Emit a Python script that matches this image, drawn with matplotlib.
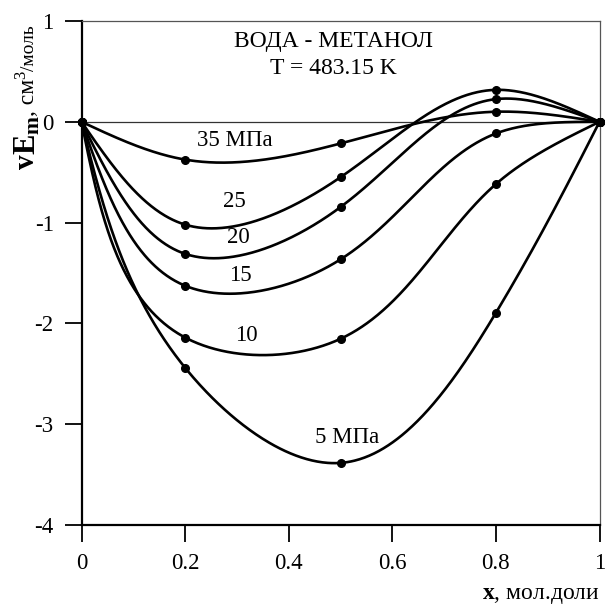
import numpy as np
import matplotlib
matplotlib.use("Agg")
import matplotlib.pyplot as plt

plt.rcParams['font.family'] = ['Liberation Serif', 'DejaVu Serif']
plt.rcParams['mathtext.fontset'] = 'custom'
plt.rcParams['mathtext.rm'] = 'Liberation Serif'
plt.rcParams['mathtext.bf'] = 'Liberation Serif:bold'
plt.rcParams['mathtext.it'] = 'Liberation Serif:italic'

x_pts = [0.0, 0.2, 0.5, 0.8, 1.0]
v_35 = [0.0, -0.375, -0.215, 0.100, 0.0]
v_25 = [0.0, -1.020, -0.550, 0.317, 0.0]
v_20 = [0.0, -1.310, -0.846, 0.225, 0.0]
v_15 = [0.0, -1.626, -1.365, -0.116, 0.0]
v_10 = [0.0, -2.140, -2.153, -0.618, 0.0]
v_5 = [0.0, -2.440, -3.384, -1.895, 0.0]
series = [v_35, v_25, v_20, v_15, v_10, v_5]
curve_labels = ['35 МПа', '25', '20', '15', '10', '5 МПа']
label_pos = [(0.296, -0.19), (0.296, -0.79), (0.302, -1.15), (0.306, -1.52), (0.319, -2.12), (0.512, -3.13)]
x_ticks = [0, 0.2, 0.4, 0.6, 0.8, 1]
x_ticklabels = ['0', '0.2', '0.4', '0.6', '0.8', '1']
y_ticks = [-4, -3, -2, -1, 0, 1]
y_ticklabels = ['-4', '-3', '-2', '-1', '0', '1']


def natural_spline_coeffs(t, y):
    n = len(t)
    h = np.diff(t)
    A = np.zeros((n, n)); b = np.zeros(n)
    A[0, 0] = 1; A[-1, -1] = 1
    for i in range(1, n - 1):
        A[i, i - 1] = h[i - 1]
        A[i, i] = 2 * (h[i - 1] + h[i])
        A[i, i + 1] = h[i]
        b[i] = 6 * ((y[i + 1] - y[i]) / h[i] - (y[i] - y[i - 1]) / h[i - 1])
    return np.linalg.solve(A, b)


def eval_spline(t, y, M, ts):
    h = np.diff(t)
    out = np.empty_like(ts)
    n = len(t)
    for j, tv in enumerate(ts):
        i = min(max(np.searchsorted(t, tv) - 1, 0), n - 2)
        t1 = t[i + 1] - tv; t0 = tv - t[i]
        out[j] = (M[i] * t1 ** 3 + M[i + 1] * t0 ** 3) / (6 * h[i]) \
            + (y[i] / h[i] - M[i] * h[i] / 6) * t1 \
            + (y[i + 1] / h[i] - M[i + 1] * h[i] / 6) * t0
    return out


def parametric_curve(xk, yk, sx=518.0, sy=101.0, num=600):
    px = np.asarray(xk, float) * sx
    py = np.asarray(yk, float) * sy
    d = np.hypot(np.diff(px), np.diff(py))
    t = np.concatenate([[0], np.cumsum(d)])
    ts = np.linspace(0, t[-1], num)
    X = eval_spline(t, px, natural_spline_coeffs(t, px), ts)
    Y = eval_spline(t, py, natural_spline_coeffs(t, py), ts)
    return X / sx, Y / sy


fig = plt.figure(figsize=(6.06, 6.08), dpi=100)
ax = fig.add_axes([81.5 / 606, 1 - 525 / 608, (599.5 - 81.5) / 606, (525 - 21) / 608])

ax.axhline(0, color='#333333', lw=0.9, zorder=1)
for ys in series:
    cx, cy = parametric_curve(x_pts, ys)
    ax.plot(cx, cy, color='black', lw=1.9, zorder=3)
    ax.plot(x_pts, ys, 'o', color='black', ms=5.5, zorder=4, clip_on=False)

for lab, (lx, ly) in zip(curve_labels, label_pos):
    ax.text(lx, ly, lab, ha='center', va='center', fontsize=16.5)

ax.text(0.486, 0.80, 'ВОДА - МЕТАНОЛ', ha='center', va='center', fontsize=17)
ax.text(0.486, 0.53, 'T = 483.15 K', ha='center', va='center', fontsize=17)

ax.set_xlim(0, 1)
ax.set_ylim(-4, 1)
ax.set_xticks(x_ticks)
ax.set_xticklabels(x_ticklabels)
ax.set_yticks(y_ticks)
ax.set_yticklabels(y_ticklabels)
ax.tick_params(direction='out', length=12, width=1.3, labelsize=16.5, pad=8)
for s in ['left', 'bottom']:
    ax.spines[s].set_linewidth(1.6)
for s in ['top', 'right']:
    ax.spines[s].set_linewidth(0.9)
    ax.spines[s].set_color('#555555')

# y-axis label built from rotated pieces (different sizes)
fig.canvas.draw()
renderer = fig.canvas.get_renderer()
W, H = 606, 608
base_x = 34.0
pieces = [
    ('v', 21, 'bold', 0),
    ('E', 22, 'bold', 0),
    ('m', 15.5, 'bold', 4.5),
    (', см', 17, 'normal', 0),
    ('3', 12, 'normal', -9),
    ('/моль', 14, 'normal', 0),
]
cur_y = 169.0
for txt, size, weight, dx in pieces:
    t = fig.text((base_x + dx) / W, 1 - cur_y / H, txt, rotation=90, rotation_mode='anchor',
                 ha='left', va='baseline', fontsize=size, fontweight=weight)
    bb = t.get_window_extent(renderer)
    cur_y -= bb.height

fig.text(600 / 606, 1 - 596 / 608, r'$\mathbf{x}$, мол.доли', ha='right', va='center', fontsize=17)

fig.savefig('out.png', dpi=100)
